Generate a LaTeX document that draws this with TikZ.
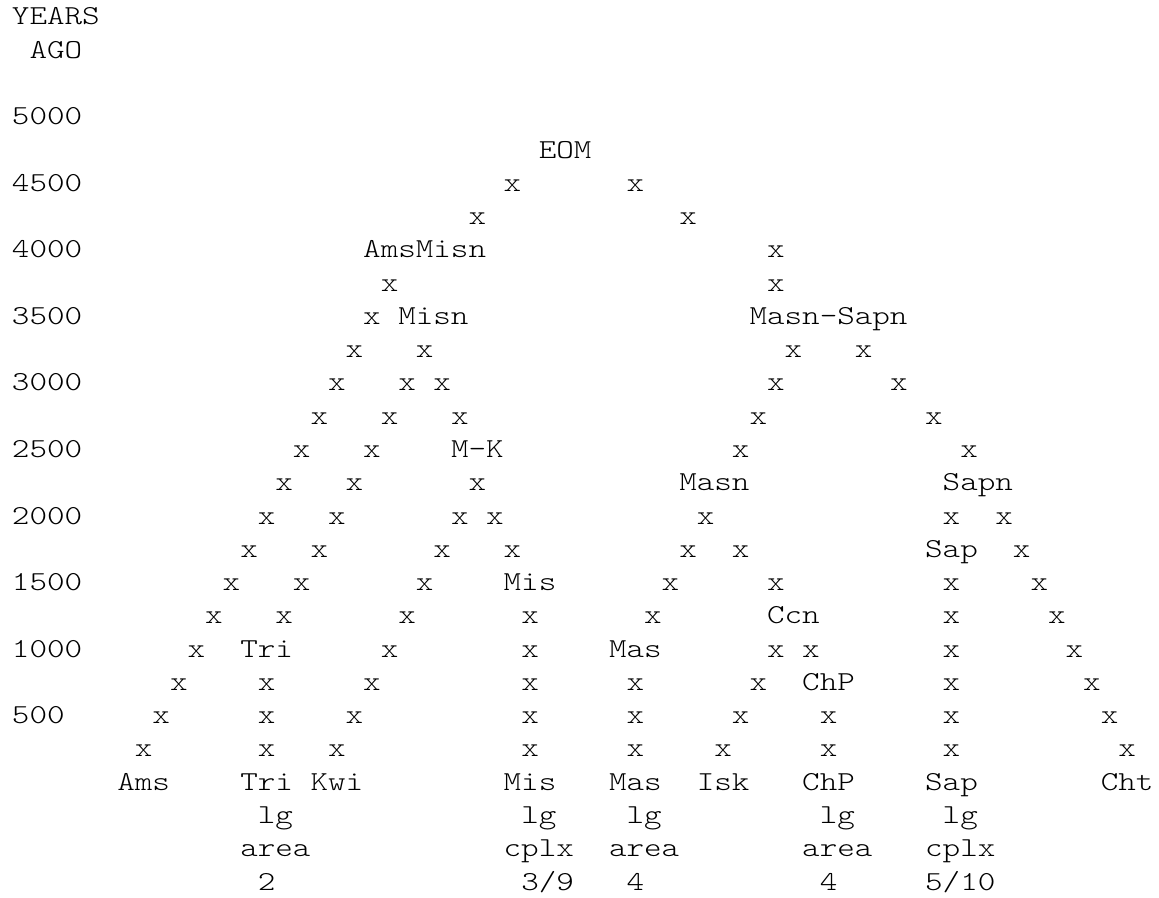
\documentclass[tikz,border=0pt]{standalone}
\usepackage{fontspec}
\newfontfamily\chartfont{lmmonolt10-regular}[Extension=.otf, FakeStretch=1.22]

\begin{document}
\begin{tikzpicture}[x=17.56pt, y=-33.27pt,
  txt/.style={anchor=base west, inner sep=0pt, outer sep=0pt,
    font=\chartfont\fontsize{27.4pt}{33.3pt}\selectfont}]
\useasboundingbox (0,0) rectangle (66.0,26.961);
\begin{scope}[shift={(0.683,0.751)}]
% time axis
\node[txt] (years) at (0,0) {YEARS};
\node[txt] (ago) at (1,1) {AGO};
\foreach \rr/\yr in {3/5000,5/4500,7/4000,9/3500,11/3000,13/2500,15/2000,17/1500,19/1000,21/500}
  \node[txt] (yr\yr) at (0,\rr) {\yr};
% branch points
\node[txt] (eom) at (30,4) {EOM};
\node[txt] (amsmisn) at (20,7) {AmsMisn};
\node[txt] (misn) at (22,9) {Misn};
\node[txt] (masnsapn) at (42,9) {Masn-Sapn};
\node[txt] (mk) at (25,13) {M-K};
\node[txt] (masn) at (38,14) {Masn};
\node[txt] (sapn) at (53,14) {Sapn};
\node[txt] (sapmid) at (52,16) {Sap};
\node[txt] (mismid) at (28,17) {Mis};
\node[txt] (ccn) at (43,18) {Ccn};
\node[txt] (trimid) at (13,19) {Tri};
\node[txt] (masmid) at (34,19) {Mas};
\node[txt] (chpmid) at (45,20) {ChP};
% lineages
\foreach \cc/\rr in {28/5,35/5, 26/6,38/6, 43/7, 21/8,43/8, 20/9,
    19/10,23/10,44/10,48/10, 18/11,22/11,24/11,43/11,50/11,
    17/12,21/12,25/12,42/12,52/12, 16/13,20/13,41/13,54/13,
    15/14,19/14,26/14, 14/15,18/15,25/15,27/15,39/15,53/15,56/15,
    13/16,17/16,24/16,28/16,38/16,41/16,57/16,
    12/17,16/17,23/17,37/17,43/17,53/17,58/17,
    11/18,15/18,22/18,29/18,36/18,53/18,59/18,
    10/19,21/19,29/19,43/19,45/19,53/19,60/19,
    9/20,14/20,20/20,29/20,35/20,42/20,53/20,61/20,
    8/21,14/21,19/21,29/21,35/21,41/21,46/21,53/21,62/21,
    7/22,14/22,18/22,29/22,35/22,40/22,46/22,53/22,63/22}
  \node[txt] (x\cc-\rr) at (\cc,\rr) {x};
% present-day languages
\foreach \cc/\lang in {6/Ams,13/Tri,17/Kwi,28/Mis,34/Mas,39/Isk,45/ChP,52/Sap,62/Cht}
  \node[txt] (\lang) at (\cc,23) {\lang};
\foreach \cc in {14,29,35,46,53}
  \node[txt] (lg\cc) at (\cc,24) {lg};
\node[txt] (area13) at (13,25) {area};
\node[txt] (cplx28) at (28,25) {cplx};
\node[txt] (area34) at (34,25) {area};
\node[txt] (area45) at (45,25) {area};
\node[txt] (cplx52) at (52,25) {cplx};
\node[txt] (n14) at (14,26) {2};
\node[txt] (n29) at (29,26) {3/9};
\node[txt] (n35) at (35,26) {4};
\node[txt] (n46) at (46,26) {4};
\node[txt] (n52) at (52,26) {5/10};
\end{scope}
\end{tikzpicture}
\end{document}
